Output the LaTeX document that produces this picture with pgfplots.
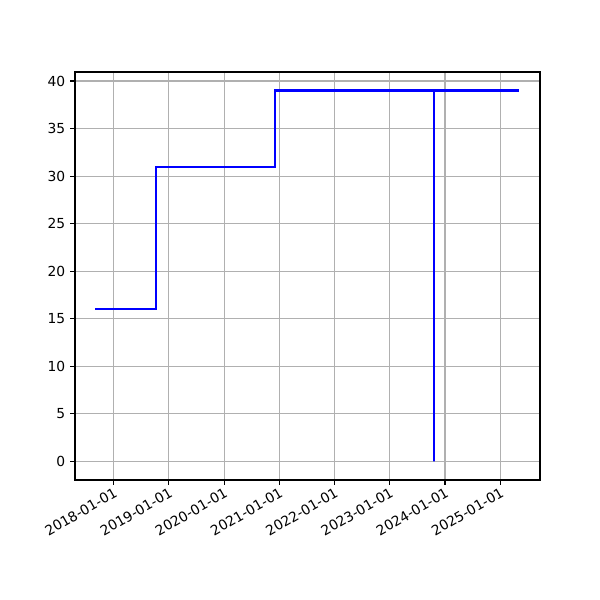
\documentclass[border=0pt]{standalone}
\usepackage{fontspec}
\setmainfont{DejaVu Sans}
\usepackage{pgfplots}
\pgfplotsset{compat=1.18}

\begin{document}
\begin{tikzpicture}
  \begin{axis}[
      scale only axis,
      width=4.65in, height=4.08in,
      xmin=2017.30, xmax=2025.72,
      ymin=-1.95, ymax=40.95,
      xtick={2018,2019,2020,2021,2022,2023,2024,2025},
      xticklabels={2018-01-01,2019-01-01,2020-01-01,2021-01-01,2022-01-01,2023-01-01,2024-01-01,2025-01-01},
      ytick={0,5,...,40},
      x tick label style={rotate=30, anchor=north east, inner sep=1pt},
      tick label style={font=\fontsize{10}{12}\selectfont},
      /pgf/number format/assume math mode=true,
      tick align=outside, tick pos=lower,
      major tick length=3.5pt,
      every tick/.style={black, line width=0.8pt},
      grid=major,
      major grid style={color=black!31, line width=0.8pt},
      axis line style={line width=0.8pt},
    ]
    \addplot[blue, line width=1.5pt, line join=miter] coordinates {
      (2017.67,16) (2018.76,16) (2018.76,31) (2020.92,31) (2020.92,39)
      (2023.80,39) (2023.80,0) (2023.80,39) (2025.34,39)
    };
  \end{axis}
  \path (current axis.south west) ++(-0.75in,-1.2in) rectangle ++(6in,6in);
\end{tikzpicture}
\end{document}
